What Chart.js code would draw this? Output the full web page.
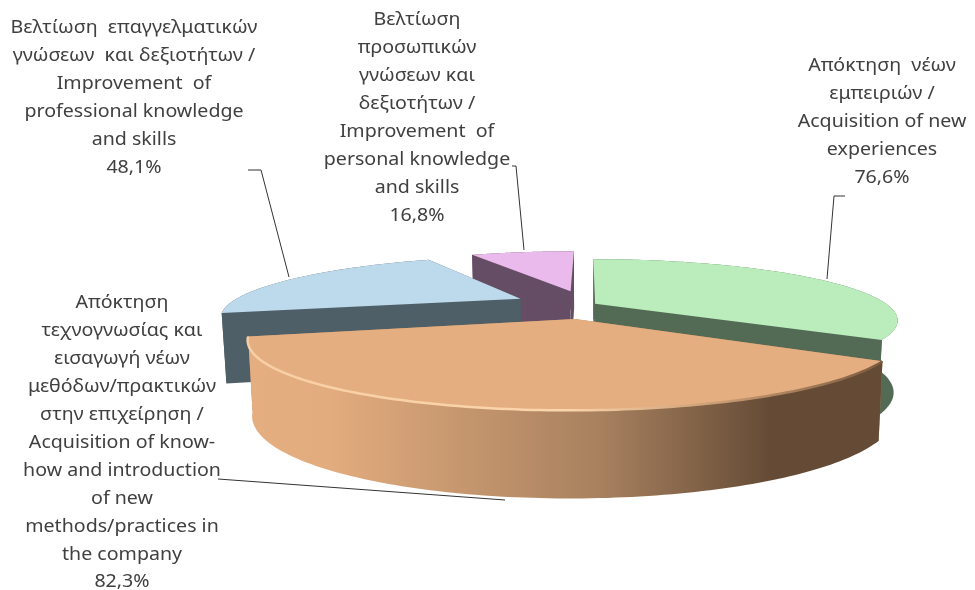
<!DOCTYPE html>
<html><head><meta charset="utf-8">
<style>html,body{margin:0;padding:0;background:#fff}#w{width:975px;height:590px;position:relative}</style>
<script src="https://cdn.jsdelivr.net/npm/chart.js@4/dist/chart.umd.min.js"></script>
</head><body><div id="w"><canvas id="c" width="975" height="590"></canvas></div>
<script>
const categories = [
  ['Απόκτηση  νέων','εμπειριών /','Acquisition of new','experiences'],
  ['Απόκτηση','τεχνογνωσίας και','εισαγωγή νέων','μεθόδων/πρακτικών','στην επιχείρηση /','Acquisition of know-','how and introduction','of new','methods/practices in','the company'],
  ['Βελτίωση  επαγγελματικών','γνώσεων  και δεξιοτήτων /','Improvement  of','professional knowledge','and skills'],
  ['Βελτίωση','προσωπικών','γνώσεων και','δεξιοτήτων /','Improvement  of','personal knowledge','and skills']
];
const values = [76.6, 82.3, 48.1, 16.8];
const explode = [8, 61, 65, 65];
const topColors = ['#BAEDBB', '#E5AE80', '#BDD9EC', '#EBBAEC'];
const wallColors = ['#536B54', '#B08660', '#4F5F68', '#664D66'];
const drawOrder = [3, 0, 2, 1];
const labelAnchors = [[882,66],[122,303],[134,28],[417,20]];
const leaders = [
  [[827,279],[834,196],[845,196]],
  [[505,500],[218,479]],
  [[289,277],[261,170],[248,170]],
  [[524,250],[516,166],[512,166]]
];
const RADIUS = 292, TILT = 0.195, PERSP = 0.27, DEPTH = 69, DEPTH_POW = 0.6, BASE_X = 0.987;
const LINE_H = 27.95, FONT = '17.5px "Noto Sans"', TEXT_STRETCH = 1.12;

function makeProj(el){
  const f = RADIUS / el.outerRadius;
  const mid = (el.startAngle + el.endAngle) / 2;
  const off = (el.options.offset || 0);
  const ox = Math.cos(mid) * off, oy = Math.sin(mid) * off;
  return (px, py, z) => {
    const u = px + ox, v = -(py + oy);
    const s = 1 / (1 + PERSP * v / el.outerRadius);
    const kx = z ? BASE_X : 1;
    return [el.x + u * f * s * kx, el.y - v * f * TILT * s + z * DEPTH * Math.pow(s, DEPTH_POW)];
  };
}
function rim(el, n){
  const pts = [];
  for (let i = 0; i <= n; i++){
    const a = el.startAngle + (el.endAngle - el.startAngle) * i / n;
    pts.push([Math.cos(a) * el.outerRadius, Math.sin(a) * el.outerRadius]);
  }
  return pts;
}
function poly(ctx, pts, fill){
  ctx.beginPath();
  pts.forEach((p,i)=> i ? ctx.lineTo(p[0],p[1]) : ctx.moveTo(p[0],p[1]));
  ctx.closePath();
  ctx.fillStyle = fill; ctx.fill();
}
const pie3d = {
  id:'pie3d',
  beforeDatasetsDraw(chart){
    const ctx = chart.ctx, arcs = chart.getDatasetMeta(0).data;
    ctx.save();
    drawOrder.forEach(i=>{
      const el = arcs[i], P = makeProj(el), R = rim(el, 120);
      const T = R.map(p=>P(p[0],p[1],0)), B = R.map(p=>P(p[0],p[1],1));
      const a0 = P(0,0,0), b0 = P(0,0,1);
      let wall = wallColors[i];
      if (i === 1){
        const g = ctx.createLinearGradient(250,0,885,0);
        g.addColorStop(0,'#E5AE80'); g.addColorStop(0.12,'#E3AC7E');
        g.addColorStop(0.55,'#A8815F'); g.addColorStop(0.82,'#654B36'); g.addColorStop(1,'#654B36');
        wall = g;
      }
      poly(ctx,[a0,T[0],B[0],b0],wallColors[i]);
      poly(ctx,[a0,T[T.length-1],B[B.length-1],b0],wallColors[i]);
      poly(ctx,T.concat(B.slice().reverse()),wall);
      poly(ctx,[a0].concat(T),el.options.backgroundColor);
      if (i === 1){
        const g2 = ctx.createLinearGradient(250,0,885,0);
        g2.addColorStop(0,'#F8CFA4'); g2.addColorStop(0.5,'#FBD5AC'); g2.addColorStop(0.75,'#C79A70'); g2.addColorStop(1,'#7A5A40');
        ctx.beginPath();
        T.forEach((p,k)=> k ? ctx.lineTo(p[0],p[1]) : ctx.moveTo(p[0],p[1]));
        ctx.strokeStyle = g2; ctx.lineWidth = 2.5; ctx.stroke();
      }
    });
    ctx.restore();
    return false;
  },
  afterDraw(chart){
    const ctx = chart.ctx;
    ctx.save();
    ctx.strokeStyle = '#333'; ctx.lineWidth = 1;
    leaders.forEach(l=>{
      ctx.beginPath();
      l.forEach((p,i)=> i ? ctx.lineTo(p[0],p[1]) : ctx.moveTo(p[0],p[1]));
      ctx.stroke();
    });
    ctx.fillStyle = '#404040'; ctx.font = FONT; ctx.textAlign='center'; ctx.textBaseline='middle';
    categories.forEach((lines,i)=>{
      const all = lines.concat(values[i].toFixed(1).replace('.',',') + '%');
      all.forEach((t,k)=>{
        ctx.save();
        ctx.translate(labelAnchors[i][0], labelAnchors[i][1] + k * LINE_H);
        ctx.scale(TEXT_STRETCH, 1);
        ctx.fillText(t, 0, 0);
        ctx.restore();
      });
    });
    ctx.restore();
  }
};
new Chart(document.getElementById('c'),{
  type:'pie',
  data:{labels:categories.map(l=>l.join(' ')),datasets:[{data:values,backgroundColor:topColors,offset:explode,borderWidth:0}]},
  options:{
    responsive:false,animation:false,
    layout:{padding:{left:199,top:19,right:0,bottom:0}},
    plugins:{legend:{display:false},tooltip:{enabled:false},title:{display:false}}
  },
  plugins:[pie3d]
});
</script></body></html>
